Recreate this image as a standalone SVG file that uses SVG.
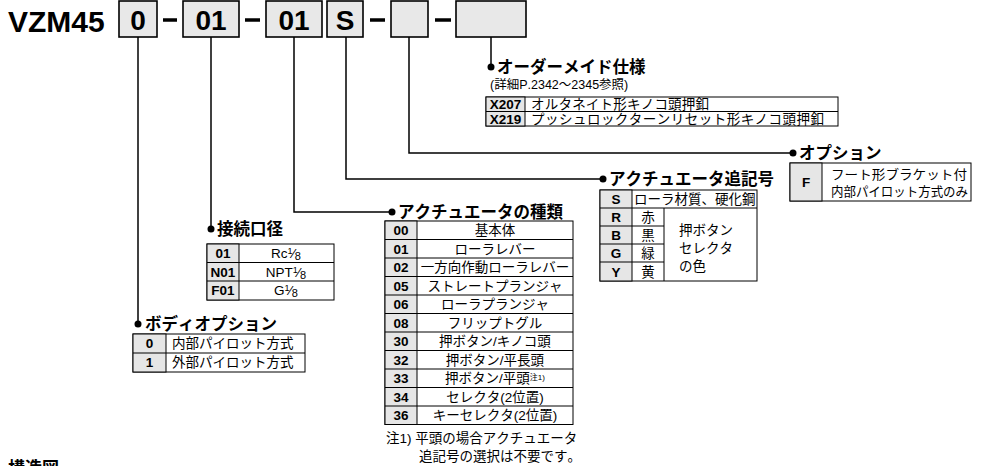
<svg xmlns="http://www.w3.org/2000/svg" width="981" height="466" viewBox="0 0 981 466">
<style>
text{font-family:"Liberation Sans","Noto Sans CJK JP",sans-serif;fill:#000;font-kerning:none}
.title{font-size:30px;font-weight:bold}
.box{fill:#e8e8e8;stroke:#000;stroke-width:1.6}
.bx{font-size:28px;font-weight:bold;text-anchor:middle}
.dash{stroke:#000;stroke-width:3.5}
.lead{fill:none;stroke:#000;stroke-width:1.5}
.dot{fill:#000}
.hd{font-size:16.5px;font-weight:bold}
.tb{fill:#fff;stroke:#000;stroke-width:1}
.cc{fill:#e6e6e6;stroke:#000;stroke-width:1}
.ln{stroke:#000;stroke-width:1}
.cd{font-size:13.5px;font-weight:bold;text-anchor:middle}
.tx{font-size:13.5px}
.tm{font-size:13.5px;text-anchor:middle}
.sm{font-size:12.5px}
</style>

<g id="title">
<text class="title" x="8" y="32">VZM45</text>
<rect class="box" x="119" y="1" width="38" height="36"/><text class="bx" x="138" y="30">0</text>
<line class="dash" x1="163" y1="20" x2="177" y2="20"/>
<rect class="box" x="183" y="1" width="56" height="36"/><text class="bx" x="211" y="30">01</text>
<line class="dash" x1="245" y1="20" x2="260" y2="20"/>
<rect class="box" x="266" y="1" width="56" height="36"/><text class="bx" x="294" y="30">01</text>
<rect class="box" x="327" y="1" width="36" height="36"/><text class="bx" x="345" y="30">S</text>
<line class="dash" x1="370" y1="20" x2="385" y2="20"/>
<rect class="box" x="391" y="1" width="37" height="36"/>
<line class="dash" x1="435" y1="20" x2="451" y2="20"/>
<rect class="box" x="456" y="1" width="70" height="36"/>
</g>

<g id="connectors">
<polyline class="lead" points="138,37 138,324"/>
<polyline class="lead" points="211,37 211,229"/>
<polyline class="lead" points="294,37 294,212 392,212"/>
<polyline class="lead" points="346,37 346,179 603,179"/>
<polyline class="lead" points="409,37 409,153 793,153"/>
<polyline class="lead" points="491,37 491,67"/>
<circle class="dot" cx="138" cy="324" r="3.5"/>
<circle class="dot" cx="211" cy="229" r="3.5"/>
<circle class="dot" cx="392" cy="212" r="3.5"/>
<circle class="dot" cx="603" cy="179" r="3.5"/>
<circle class="dot" cx="793" cy="153" r="3.5"/>
<circle class="dot" cx="491" cy="67" r="3.5"/>
</g>

<g id="order-made">
<text class="hd" x="497" y="73">オーダーメイド仕様</text>
<text class="sm" x="490" y="89">(詳細P.2342～2345参照)</text>
<rect class="tb" x="486" y="97" width="352" height="29"/>
<rect class="cc" x="486" y="97" width="39" height="29"/>
<line class="ln" x1="486" y1="111.5" x2="838" y2="111.5"/>
<text class="cd" x="505.5" y="109">X207</text>
<text class="cd" x="505.5" y="123.5">X219</text>
<text class="tx" x="531" y="109" textLength="178" lengthAdjust="spacing">オルタネイト形キノコ頭押釦</text>
<text class="tx" x="531" y="123.5" textLength="293" lengthAdjust="spacing">プッシュロックターンリセット形キノコ頭押釦</text>
</g>

<g id="option">
<text class="hd" x="799" y="159">オプション</text>
<rect class="tb" x="790" y="163" width="181" height="38"/>
<rect class="cc" x="790" y="163" width="32" height="38"/>
<text class="cd" x="806" y="187">F</text>
<text x="831" y="179" style="font-size:12.8px" textLength="136" lengthAdjust="spacingAndGlyphs">フート形ブラケット付</text>
<text x="831" y="196" style="font-size:12.8px" textLength="137" lengthAdjust="spacingAndGlyphs">内部パイロット方式のみ</text>
</g>

<g id="actuator-suffix">
<text class="hd" x="609" y="185">アクチュエータ追記号</text>
<rect class="tb" x="600" y="190" width="157" height="91"/>
<rect class="cc" x="600" y="190" width="32" height="91"/>
<line class="ln" x1="600" y1="208" x2="757" y2="208"/>
<line class="ln" x1="600" y1="226" x2="664" y2="226"/>
<line class="ln" x1="600" y1="244" x2="664" y2="244"/>
<line class="ln" x1="600" y1="262" x2="664" y2="262"/>
<line class="ln" x1="664" y1="208" x2="664" y2="281"/>
<text class="cd" x="616" y="204">S</text>
<text class="cd" x="616" y="222">R</text>
<text class="cd" x="616" y="240">B</text>
<text class="cd" x="616" y="258">G</text>
<text class="cd" x="616" y="277">Y</text>
<text class="tx" x="634" y="204">ローラ材質、硬化鋼</text>
<text class="tm" x="648" y="222">赤</text>
<text class="tm" x="648" y="240">黒</text>
<text class="tm" x="648" y="258">緑</text>
<text class="tm" x="648" y="277">黄</text>
<text class="tx" x="679" y="235">押ボタン</text>
<text class="tx" x="679" y="253">セレクタ</text>
<text class="tx" x="679" y="271">の色</text>
</g>

<g id="actuator-type">
<text class="hd" x="398" y="218">アクチュエータの種類</text>
<rect class="tb" x="385" y="221" width="188" height="203.5"/>
<rect class="cc" x="385" y="221" width="32" height="203.5"/>
<line class="ln" x1="385" y1="239.5" x2="573" y2="239.5"/>
<line class="ln" x1="385" y1="258" x2="573" y2="258"/>
<line class="ln" x1="385" y1="276.5" x2="573" y2="276.5"/>
<line class="ln" x1="385" y1="295" x2="573" y2="295"/>
<line class="ln" x1="385" y1="313.5" x2="573" y2="313.5"/>
<line class="ln" x1="385" y1="332" x2="573" y2="332"/>
<line class="ln" x1="385" y1="350.5" x2="573" y2="350.5"/>
<line class="ln" x1="385" y1="369" x2="573" y2="369"/>
<line class="ln" x1="385" y1="387.5" x2="573" y2="387.5"/>
<line class="ln" x1="385" y1="406" x2="573" y2="406"/>
<text class="cd" x="401" y="235">00</text>
<text class="cd" x="401" y="253.5">01</text>
<text class="cd" x="401" y="272">02</text>
<text class="cd" x="401" y="290.5">05</text>
<text class="cd" x="401" y="309">06</text>
<text class="cd" x="401" y="327.5">08</text>
<text class="cd" x="401" y="346">30</text>
<text class="cd" x="401" y="364.5">32</text>
<text class="cd" x="401" y="383">33</text>
<text class="cd" x="401" y="401.5">34</text>
<text class="cd" x="401" y="420">36</text>
<text class="tm" x="495" y="235">基本体</text>
<text class="tm" x="495" y="253.5">ローラレバー</text>
<text class="tm" x="495" y="272">一方向作動ローラレバー</text>
<text class="tm" x="495" y="290.5">ストレートプランジャ</text>
<text class="tm" x="495" y="309">ローラプランジャ</text>
<text class="tm" x="495" y="327.5">フリップトグル</text>
<text class="tm" x="495" y="346">押ボタン/キノコ頭</text>
<text class="tm" x="495" y="364.5">押ボタン/平長頭</text>
<text class="tm" x="495" y="383">押ボタン/平頭<tspan font-size="8" dy="-3">注1)</tspan></text>
<text class="tm" x="495" y="401.5">セレクタ(2位置)</text>
<text class="tm" x="495" y="420">キーセレクタ(2位置)</text>
<text class="tx" x="386" y="443">注1) 平頭の場合アクチュエータ</text>
<text class="tx" x="419" y="461">追記号の選択は不要です。</text>
</g>

<g id="port-size">
<text class="hd" x="217" y="235">接続口径</text>
<rect class="tb" x="207" y="244" width="127" height="56"/>
<rect class="cc" x="207" y="244" width="32" height="56"/>
<line class="ln" x1="207" y1="262.5" x2="334" y2="262.5"/>
<line class="ln" x1="207" y1="281" x2="334" y2="281"/>
<text class="cd" x="223" y="258">01</text>
<text class="cd" x="223" y="277">N01</text>
<text class="cd" x="223" y="295">F01</text>
<text class="tm" x="286" y="258">Rc<tspan font-size="9" dy="-4">1</tspan><tspan dy="4">⁄</tspan><tspan font-size="11" dy="2">8</tspan></text>
<text class="tm" x="286" y="277">NPT<tspan font-size="9" dy="-4">1</tspan><tspan dy="4">⁄</tspan><tspan font-size="11" dy="2">8</tspan></text>
<text class="tm" x="286" y="295">G<tspan font-size="9" dy="-4">1</tspan><tspan dy="4">⁄</tspan><tspan font-size="11" dy="2">8</tspan></text>
</g>

<g id="body-option">
<text class="hd" x="145" y="330">ボディオプション</text>
<rect class="tb" x="133" y="334" width="172" height="38"/>
<rect class="cc" x="133" y="334" width="33" height="38"/>
<line class="ln" x1="133" y1="353" x2="305" y2="353"/>
<text class="cd" x="149.5" y="348">0</text>
<text class="cd" x="149.5" y="367">1</text>
<text class="tx" x="172" y="348">内部パイロット方式</text>
<text class="tx" x="172" y="367">外部パイロット方式</text>
</g>

<g id="footer">
<text x="8" y="474" style="font-size:17px;font-weight:bold">構造図</text>
</g>
</svg>
